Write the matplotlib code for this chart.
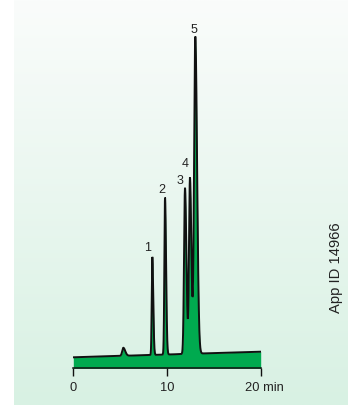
import numpy as np
import matplotlib
matplotlib.use("Agg")
import matplotlib.pyplot as plt
from matplotlib.colors import LinearSegmentedColormap

plt.rcParams['font.family'] = ['Liberation Sans', 'DejaVu Sans']

# Peak table (retention time in min, height in detector units, left/right widths)
peak_labels = ["", "1", "2", "3", "4", "5"]
retention = [5.34, 8.43, 9.79, 11.92, 12.45, 13.02]
heights = [8.0, 98.0, 157.0, 166.0, 176.0, 317.0]
sigma_left = [0.12, 0.06, 0.07, 0.10, 0.10, 0.13]
sigma_right = [0.20, 0.10, 0.11, 0.15, 0.15, 0.19]
baseline_start, baseline_end = 0.0, 5.6

tick_values = [0, 10]
tick_texts = ["0", "10"]
end_label = "20 min"
app_id = "App ID 14966"

W, H, DPI = 348, 407, 100
fig = plt.figure(figsize=(W / DPI, H / DPI), dpi=DPI)
fig.patch.set_facecolor("white")

# soft vertical gradient panel behind the chromatogram
bg = fig.add_axes([14 / W, 2 / H, 1 - 14 / W, 1 - 2 / H])
bg.set_axis_off()
cmap = LinearSegmentedColormap.from_list(
    "panel", [(216 / 255, 241 / 255, 227 / 255), (250 / 255, 252 / 255, 251 / 255)])
bg.imshow(np.linspace(0, 1, 256)[:, None], aspect="auto", cmap=cmap,
          origin="lower", extent=[0, 1, 0, 1])
bg.set_xlim(0, 1)
bg.set_ylim(0, 1)

# chromatogram axes: x in minutes, y in detector units
px0, px1 = 73.3, 260.7
py_axis, py_top = 368.3, 20.0
y_base_px = 357.3
ax = fig.add_axes([px0 / W, (H - py_axis) / H, (px1 - px0) / W, (py_axis - py_top) / H])
ax.patch.set_alpha(0)
ymin, ymax = -(py_axis - y_base_px), y_base_px - py_top
ax.set_xlim(0, 20)
ax.set_ylim(ymin, ymax)

t = np.linspace(0, 20, 8001)
signal = baseline_start + (baseline_end - baseline_start) * t / 20.0
for tr, h, sl, sr in zip(retention, heights, sigma_left, sigma_right):
    s = np.where(t < tr, sl, sr)
    signal = signal + h * np.exp(-0.5 * ((t - tr) / s) ** 2)

ax.fill_between(t, ymin, signal, color="#00aa4f", lw=0, zorder=1)
ax.plot(t, signal, color="#111111", lw=1.4, zorder=2, solid_joinstyle="miter")

for side in ["left", "right", "top"]:
    ax.spines[side].set_visible(False)
ax.spines["bottom"].set_linewidth(1.1)
ax.spines["bottom"].set_color("#111111")
ax.spines["bottom"].set_zorder(3)
ax.set_yticks([])
ax.set_xticks([0, 10, 20])
ax.tick_params(axis="x", direction="out", length=6, width=1.0, color="#111111",
               labelbottom=False)

px_per_min = (px1 - px0) / 20.0
label_px = 391.0
for v, s in zip(tick_values, tick_texts):
    fig.text((px0 + v * px_per_min) / W, (H - label_px) / H, s, ha="center",
             va="baseline", fontsize=9.3, color="#222222")
fig.text(245.0 / W, (H - label_px) / H, end_label, ha="left", va="baseline",
         fontsize=9.3, color="#222222")

# peak numbers just above each apex (offsets in pixels)
label_dx = [0, -4.3, -3.0, -5.0, -5.0, -1.3]
label_dy = [0, 5.8, 4.8, 3.8, 10.8, 3.8]
apex = np.interp(retention, t, signal)
for name, tr, yv, dx, dy in zip(peak_labels, retention, apex, label_dx, label_dy):
    if not name:
        continue
    ax.annotate(name, xy=(tr, yv), xytext=(dx * 0.72, dy * 0.72),
                textcoords="offset points", ha="center", va="baseline",
                fontsize=9.0, color="#222222", annotation_clip=False)

fig.text(336 / W, (H - 268) / H, app_id, rotation=90, ha="center", va="center",
         fontsize=10.6, color="#222222")

fig.savefig("out.png", dpi=DPI)
